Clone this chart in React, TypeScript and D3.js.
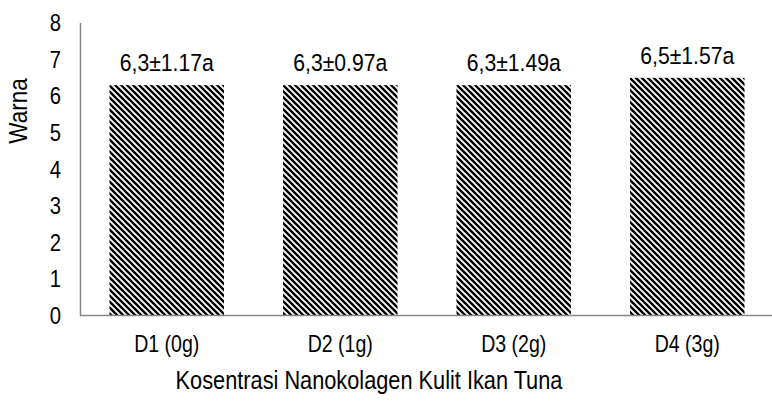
import React from "react";
import * as d3 from "d3";

const categories = ["D1 (0g)", "D2 (1g)", "D3 (2g)", "D4 (3g)"];
const values = [6.3, 6.3, 6.3, 6.5];
const valueLabels = ["6,3±1.17a", "6,3±0.97a", "6,3±1.49a", "6,5±1.57a"];
const yTicks = [0, 1, 2, 3, 4, 5, 6, 7, 8];

const W = 772;
const H = 401;
const FONT = "'Liberation Sans', Arial, sans-serif";

function NText(props: { x: number; y: number; size: number; sx?: number; anchor?: string; rotate?: number; dy?: string; children: React.ReactNode }) {
  const { x, y, size, sx = 0.9, anchor = "middle", rotate = 0, dy } = props;
  return (
    <g transform={`translate(${x},${y}) rotate(${rotate}) scale(${sx},1)`}>
      <text textAnchor={anchor} dy={dy} fontFamily={FONT} fontSize={size} fill="#000">
        {props.children}
      </text>
    </g>
  );
}

export default function App() {
  const x = d3.scaleBand<string>().domain(categories).range([80, 774]).paddingInner(0.34).paddingOuter(0.17);
  const y = d3.scaleLinear().domain([0, 8]).range([315.5, 23]);
  const axisColor = "#868686";
  return (
    <svg width={W} height={H} style={{ position: "absolute", left: 0, top: 0, background: "#fff" }}>
      <defs>
        <pattern id="diag" patternUnits="userSpaceOnUse" width={6} height={6}>
          <rect width={6} height={6} fill="#fff" />
          <path d="M-1,-1 L7,7 M-1,5 L1,7 M5,-1 L7,1" stroke="#000" strokeWidth={2.4} />
        </pattern>
      </defs>
      {categories.map((c, i) => (
        <rect key={c} x={x(c)} y={y(values[i])} width={x.bandwidth()} height={y(0) - y(values[i])} fill="url(#diag)" />
      ))}
      <line x1={80.5} x2={80.5} y1={y(8)} y2={y(0)} stroke={axisColor} strokeWidth={1.5} />
      <line x1={80} x2={W} y1={y(0)} y2={y(0)} stroke={axisColor} strokeWidth={1.5} />
      {yTicks.map((t) => (
        <NText key={t} x={61} y={y(t)} dy="0.36em" anchor="end" size={23} sx={0.88}>
          {t}
        </NText>
      ))}
      {categories.map((c, i) => (
        <NText key={c} x={(x(c) as number) + x.bandwidth() / 2} y={y(values[i]) - 14} size={23.5}>
          {valueLabels[i]}
        </NText>
      ))}
      <g>
        {categories.map((c) => (
          <NText key={c} x={(x(c) as number) + x.bandwidth() / 2} y={352} size={23} sx={0.85}>
            {c}
          </NText>
        ))}
      </g>
      <NText x={369} y={389} size={25} sx={0.87}>
        Kosentrasi Nanokolagen Kulit Ikan Tuna
      </NText>
      <NText x={27} y={111} size={25} sx={0.9} rotate={-90}>
        Warna
      </NText>
    </svg>
  );
}
